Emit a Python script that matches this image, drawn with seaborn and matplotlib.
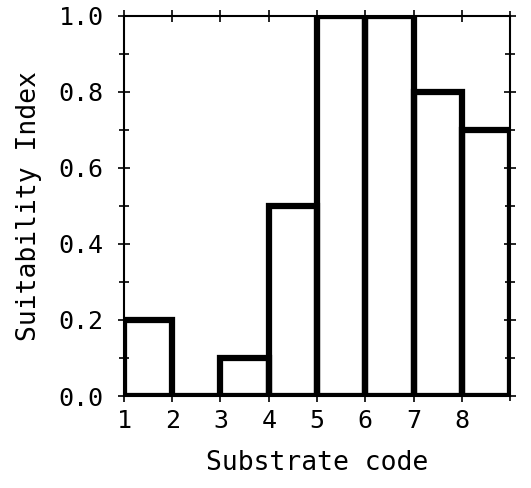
import seaborn as sns
import matplotlib.pyplot as plt
import numpy as np
import pandas as pd

# substrate codes and suitability index
codes = [1, 2, 3, 4, 5, 6, 7, 8]
suitability = [0.2, 0.0, 0.1, 0.5, 1.0, 1.0, 0.8, 0.7]
x_ticks = [1, 2, 3, 4, 5, 6, 7, 8]
y_ticks = [0.0, 0.2, 0.4, 0.6, 0.8, 1.0]

data = pd.DataFrame({"code": codes, "si": suitability})

sns.set_style("ticks")
plt.rcParams['font.family'] = ['DejaVu Sans Mono']
plt.rcParams['text.color'] = 'black'
plt.rcParams['axes.labelcolor'] = 'black'
plt.rcParams['xtick.color'] = 'black'
plt.rcParams['ytick.color'] = 'black'

fig = plt.figure(figsize=(5.31, 4.88), dpi=100)
ax = fig.add_axes([0.2335, 0.1885, 0.727, 0.779])

sns.histplot(data=data, x="code", weights="si", binwidth=1, binrange=(1, 9),
             fill=False, element="bars", color="black", linewidth=4.5, ax=ax)

ax.set_xlim(1, 9)
ax.set_ylim(0, 1)
ax.set_xticks(x_ticks)
ax.set_xticks(np.arange(1, 10), minor=True)
ax.set_yticks(y_ticks)
ax.set_yticks(np.arange(0, 1.01, 0.1), minor=True)
ax.set_yticklabels(["%.1f" % v for v in y_ticks])
ax.tick_params(which="both", direction="inout", top=True, right=True,
               length=9, width=1.2, labelsize=18)
ax.tick_params(which="minor", length=7)
ax.tick_params(axis="y", pad=10)
ax.tick_params(axis="x", pad=5)
for s in ax.spines.values():
    s.set_linewidth(1.5)
    s.set_color("black")

ax.set_xlabel("Substrate code", fontsize=19, labelpad=12)
ax.set_ylabel("Suitability Index", fontsize=19, labelpad=12)

fig.savefig("out.png", dpi=100)
